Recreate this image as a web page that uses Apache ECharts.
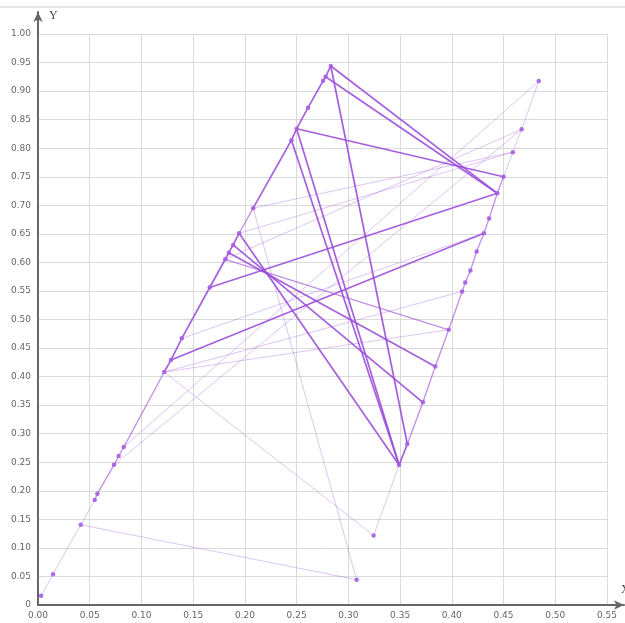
<!DOCTYPE html>
<html>
<head>
<meta charset="utf-8">
<script src="https://cdn.jsdelivr.net/npm/echarts@6/dist/echarts.min.js"></script>
<style>
  html, body { margin: 0; padding: 0; background: #fff; }
  #chart { width: 625px; height: 623px; }
</style>
</head>
<body>
<div id="chart"></div>
<script>
// Axis ranges and tick step
const xMax = 0.55;
const yMax = 1.0;
const tickStep = 0.05;

// Vertices: left chain (L), right chain (R) and two loose points (P)
const pointIds = [
  'L1','L2','L3','L4','L5','L6','L7','L8','L9','L10','L11','L12',
  'L13','L14','L15','L16','L18','L19','L20','L21','L22','L23','L24',
  'R1','R2','R3','R4','R5','R6','R7','R8','R9','R10','R11','R12',
  'R13','R14','R15','R16','P1','P2'
];
const pointX = [
  0.003, 0.0145, 0.0413, 0.0548, 0.0574, 0.0735, 0.078, 0.0829, 0.122, 0.1285, 0.139, 0.166,
  0.181, 0.1844, 0.1886, 0.1944, 0.208, 0.245, 0.250, 0.261, 0.2756, 0.278, 0.283,
  0.484, 0.4675, 0.459, 0.450, 0.444, 0.436, 0.431, 0.424, 0.418, 0.413, 0.410, 0.397,
  0.384, 0.372, 0.357, 0.349, 0.3244, 0.308
];
const pointY = [
  0.016, 0.054, 0.1405, 0.184, 0.195, 0.2455, 0.261, 0.2765, 0.408, 0.429, 0.467, 0.556,
  0.6055, 0.617, 0.6306, 0.651, 0.695, 0.814, 0.834, 0.871, 0.918, 0.925, 0.944,
  0.9175, 0.833, 0.793, 0.750, 0.721, 0.677, 0.651, 0.619, 0.5856, 0.565, 0.549, 0.482,
  0.4176, 0.355, 0.282, 0.245, 0.1218, 0.0443
];

// Links: [from, to, weight] — weight = how many times the edge is traversed
const links = [
  ['L1','L2',1], ['L2','L3',1], ['L3','L4',1], ['L4','L5',2], ['L5','L6',2],
  ['L6','L7',2], ['L7','L8',2], ['L8','L9',2], ['L9','L10',3], ['L10','L11',3],
  ['L11','L12',3], ['L12','L13',3], ['L13','L14',3], ['L14','L15',3], ['L15','L16',3],
  ['L16','L18',2], ['L18','L19',3], ['L19','L20',3], ['L20','L21',3], ['L21','L22',3],
  ['L22','L23',3], ['L23','L24',3],
  ['R1','R2',1], ['R2','R3',1], ['R3','R4',1], ['R4','R5',2], ['R5','R6',2],
  ['R6','R7',2], ['R7','R8',2], ['R8','R9',2], ['R9','R10',2], ['R10','R11',2],
  ['R11','R12',2], ['R12','R13',2], ['R13','R14',2], ['R14','R15',2], ['R15','R16',3],
  ['L24','R5',3], ['L23','R5',3], ['L20','R4',3], ['L24','R15',3],
  ['L19','R16',3], ['L20','R16',3], ['L16','R16',3], ['L15','R14',3],
  ['L14','R13',3], ['L13','R12',2], ['L12','R5',3], ['L10','R7',3],
  ['L18','R3',1], ['L18','P2',1], ['L3','P2',1], ['L9','P1',1], ['P1','R16',1],
  ['L8','R1',1], ['L9','R11',1], ['L9','R12',1], ['L11','R7',1], ['L6','R2',1],
  ['L13','R2',1], ['L16','R3',1]
];

const idx = {};
pointIds.forEach((id, i) => { idx[id] = i; });
const pt = id => [pointX[idx[id]], pointY[idx[id]]];

const weightStyle = {
  1: { opacity: 0.32, width: 1 },
  2: { opacity: 0.62, width: 1.3 },
  3: { opacity: 0.88, width: 1.7 }
};

const lineData = links.map(([a, b, w]) => ({
  coords: [pt(a), pt(b)],
  lineStyle: { color: '#9a4ad8', opacity: weightStyle[w].opacity, width: weightStyle[w].width }
}));

const pointData = pointIds.map((id, i) => [pointX[i], pointY[i]]);

const labelStyle = { color: '#666', fontSize: 9, fontFamily: 'DejaVu Sans' };

const chart = echarts.init(document.getElementById('chart'), null, { renderer: 'canvas' });
chart.setOption({
  animation: false,
  backgroundColor: '#fff',
  grid: [
    { left: 38, top: 34, right: 18, bottom: 18 },
    { left: 38, top: 12, right: 1, bottom: 18 }
  ],
  xAxis: [
    {
      gridIndex: 0, type: 'value', min: 0, max: xMax, interval: tickStep,
      axisLine: { show: false }, axisTick: { show: false },
      axisLabel: Object.assign({ margin: 6, formatter: v => v.toFixed(2) }, labelStyle),
      splitLine: { show: true, lineStyle: { color: '#dadada', width: 1 } }
    },
    {
      gridIndex: 1, type: 'value', min: 0, max: 1,
      axisLine: { show: true, symbol: ['none', 'arrow'], symbolSize: [7, 10],
                  lineStyle: { color: '#666', width: 2 } },
      axisTick: { show: false }, axisLabel: { show: false }, splitLine: { show: false }
    }
  ],
  yAxis: [
    {
      gridIndex: 0, type: 'value', min: 0, max: yMax, interval: tickStep,
      axisLine: { show: false }, axisTick: { show: false },
      axisLabel: Object.assign({ margin: 7, formatter: v => (v === 0 ? '0' : v.toFixed(2)) }, labelStyle),
      splitLine: { show: true, lineStyle: { color: '#dadada', width: 1 } }
    },
    {
      gridIndex: 1, type: 'value', min: 0, max: 1,
      axisLine: { show: true, symbol: ['none', 'arrow'], symbolSize: [7, 10],
                  lineStyle: { color: '#666', width: 2 } },
      axisTick: { show: false }, axisLabel: { show: false }, splitLine: { show: false },
      name: 'Y', nameLocation: 'end', nameGap: -4,
      nameTextStyle: { color: '#444', fontSize: 12, fontFamily: 'Liberation Serif',
                       align: 'left', verticalAlign: 'middle', padding: [0, 0, 0, 11] }
    }
  ],
  graphic: [
    { type: 'line', shape: { x1: 0, y1: 7, x2: 625, y2: 7 },
      style: { stroke: '#e6e6e6', lineWidth: 2 }, silent: true },
    // x-axis title sits just past the arrow tip, at the right border
    { type: 'text', x: 621, y: 584, silent: true,
      style: { text: 'X', fill: '#444', font: '12px "Liberation Serif"' } }
  ],
  series: [
    {
      type: 'lines', coordinateSystem: 'cartesian2d', xAxisIndex: 0, yAxisIndex: 0,
      polyline: false, silent: true, data: lineData
    },
    {
      type: 'scatter', xAxisIndex: 0, yAxisIndex: 0, symbol: 'circle', symbolSize: 4.5,
      itemStyle: { color: '#a45ee2', opacity: 0.9 }, silent: true, data: pointData
    }
  ]
});
</script>
</body>
</html>
